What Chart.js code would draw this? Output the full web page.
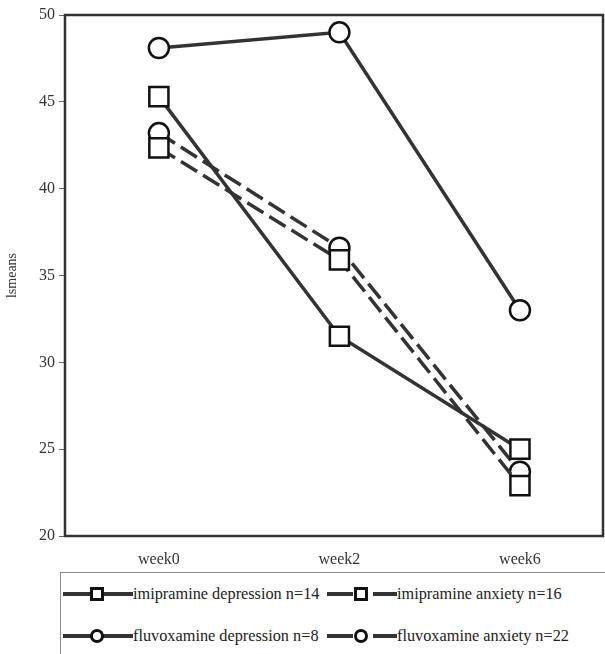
<!DOCTYPE html>
<html>
<head>
<meta charset="utf-8">
<script src="https://cdn.jsdelivr.net/npm/chart.js@4.4.1/dist/chart.umd.min.js"></script>
<style>
  html, body { margin: 0; background: #fff; overflow: hidden; font-family: "Liberation Serif", serif; }
  #chart { position: absolute; left: 0; top: 0; }
  #legend {
    position: absolute; left: 60px; top: 572px; width: 560px; height: 90px;
    border: 1px solid #8a8a8a; box-sizing: border-box;
  }
  .item { position: absolute; display: flex; align-items: center; font-size: 16.3px; color: #222; white-space: nowrap; }
  .item canvas { display: block; }
</style>
</head>
<body>
<canvas id="chart" width="605" height="572"></canvas>
<div id="legend"></div>
<script>
const WEEKS = ['week0', 'week2', 'week6'];

const IMI_DEP = [45.3, 31.5, 25.0];
const IMI_ANX = [42.35, 35.9, 22.9];
const FLU_DEP = [48.1, 49.0, 33.0];
const FLU_ANX = [43.2, 36.6, 23.7];

const LABELS = [
  'imipramine depression n=14',
  'imipramine anxiety n=16',
  'fluvoxamine depression n=8',
  'fluvoxamine anxiety n=22',
];

const INK = '#333';
const DASH = [19, 7];

function ds(label, values, shape, dashed) {
  return {
    label,
    data: values.map((y, i) => ({ x: i, y })),
    borderColor: INK,
    borderWidth: 3.5,
    borderDash: dashed ? DASH : [],
    pointStyle: shape,
    pointRadius: shape === 'rect' ? 13.5 : 10,
    pointBorderWidth: 2.5,
    pointBorderColor: '#111',
    pointBackgroundColor: '#fff',
    tension: 0,
    fill: false,
  };
}

const datasets = [
  ds(LABELS[0], IMI_DEP, 'rect', false),
  ds(LABELS[1], IMI_ANX, 'rect', true),
  ds(LABELS[2], FLU_DEP, 'circle', false),
  ds(LABELS[3], FLU_ANX, 'circle', true),
];

const font = { family: '"Liberation Serif", serif', size: 16 };

// frame around the plot area + week labels under it
const frame = {
  id: 'frame',
  afterDatasetsDraw(chart) {
    const { ctx, chartArea: a, scales: { x } } = chart;
    ctx.save();
    ctx.strokeStyle = INK;
    ctx.lineWidth = 2.5;
    ctx.strokeRect(a.left, a.top, a.right - a.left, a.bottom - a.top);
    ctx.fillStyle = '#333';
    ctx.font = `${font.size}px ${font.family}`;
    ctx.textAlign = 'center';
    ctx.textBaseline = 'middle';
    WEEKS.forEach((w, i) => ctx.fillText(w, x.getPixelForValue(i), a.bottom + 24));
    ctx.restore();
  },
};

new Chart(document.getElementById('chart'), {
  type: 'line',
  data: { datasets },
  plugins: [frame],
  options: {
    responsive: false,
    animation: false,
    layout: { autoPadding: false, padding: { top: 15, right: 2, left: 0, bottom: 0 } },
    plugins: { legend: { display: false }, tooltip: { enabled: false } },
    scales: {
      x: {
        type: 'linear',
        min: -0.52, max: 2.46,
        grid: { display: false },
        border: { display: false },
        ticks: { display: false },
        afterFit: s => { s.height = 36; },
      },
      y: {
        min: 20, max: 50,
        grid: { drawOnChartArea: false, tickLength: 6, color: '#666' },
        border: { display: false },
        ticks: { stepSize: 5, color: '#333', font, padding: 4 },
        title: { display: true, text: 'lsmeans', color: '#333', font: { family: font.family, size: 14 }, padding: { top: 4, bottom: 0 } },
        afterFit: s => { s.width = 65; },
      },
    },
  },
});

// legend with line-marker-line symbols
const legend = document.getElementById('legend');
const spots = [[2, 10], [266, 10], [2, 52], [266, 52]];
datasets.forEach((d, i) => {
  const item = document.createElement('div');
  item.className = 'item';
  item.style.left = spots[i][0] + 'px';
  item.style.top = spots[i][1] + 'px';
  const c = document.createElement('canvas');
  c.width = 70; c.height = 22;
  const g = c.getContext('2d');
  g.strokeStyle = INK;
  g.lineWidth = 4;
  const dashed = d.borderDash.length > 0;
  g.beginPath();
  if (dashed) {
    g.moveTo(0, 11); g.lineTo(26, 11);
    g.moveTo(46, 11); g.lineTo(70, 11);
  } else {
    g.moveTo(0, 11); g.lineTo(70, 11);
  }
  g.stroke();
  g.fillStyle = '#fff';
  g.strokeStyle = '#111';
  g.lineWidth = 3;
  if (d.pointStyle === 'rect') {
    g.fillRect(28.5, 5.5, 11, 11);
    g.strokeRect(28.5, 5.5, 11, 11);
  } else {
    g.beginPath(); g.arc(34, 11, 5.5, 0, Math.PI * 2); g.fill(); g.stroke();
  }
  item.appendChild(c);
  const t = document.createElement('span');
  t.textContent = d.label;
  item.appendChild(t);
  legend.appendChild(item);
});
</script>
</body>
</html>
